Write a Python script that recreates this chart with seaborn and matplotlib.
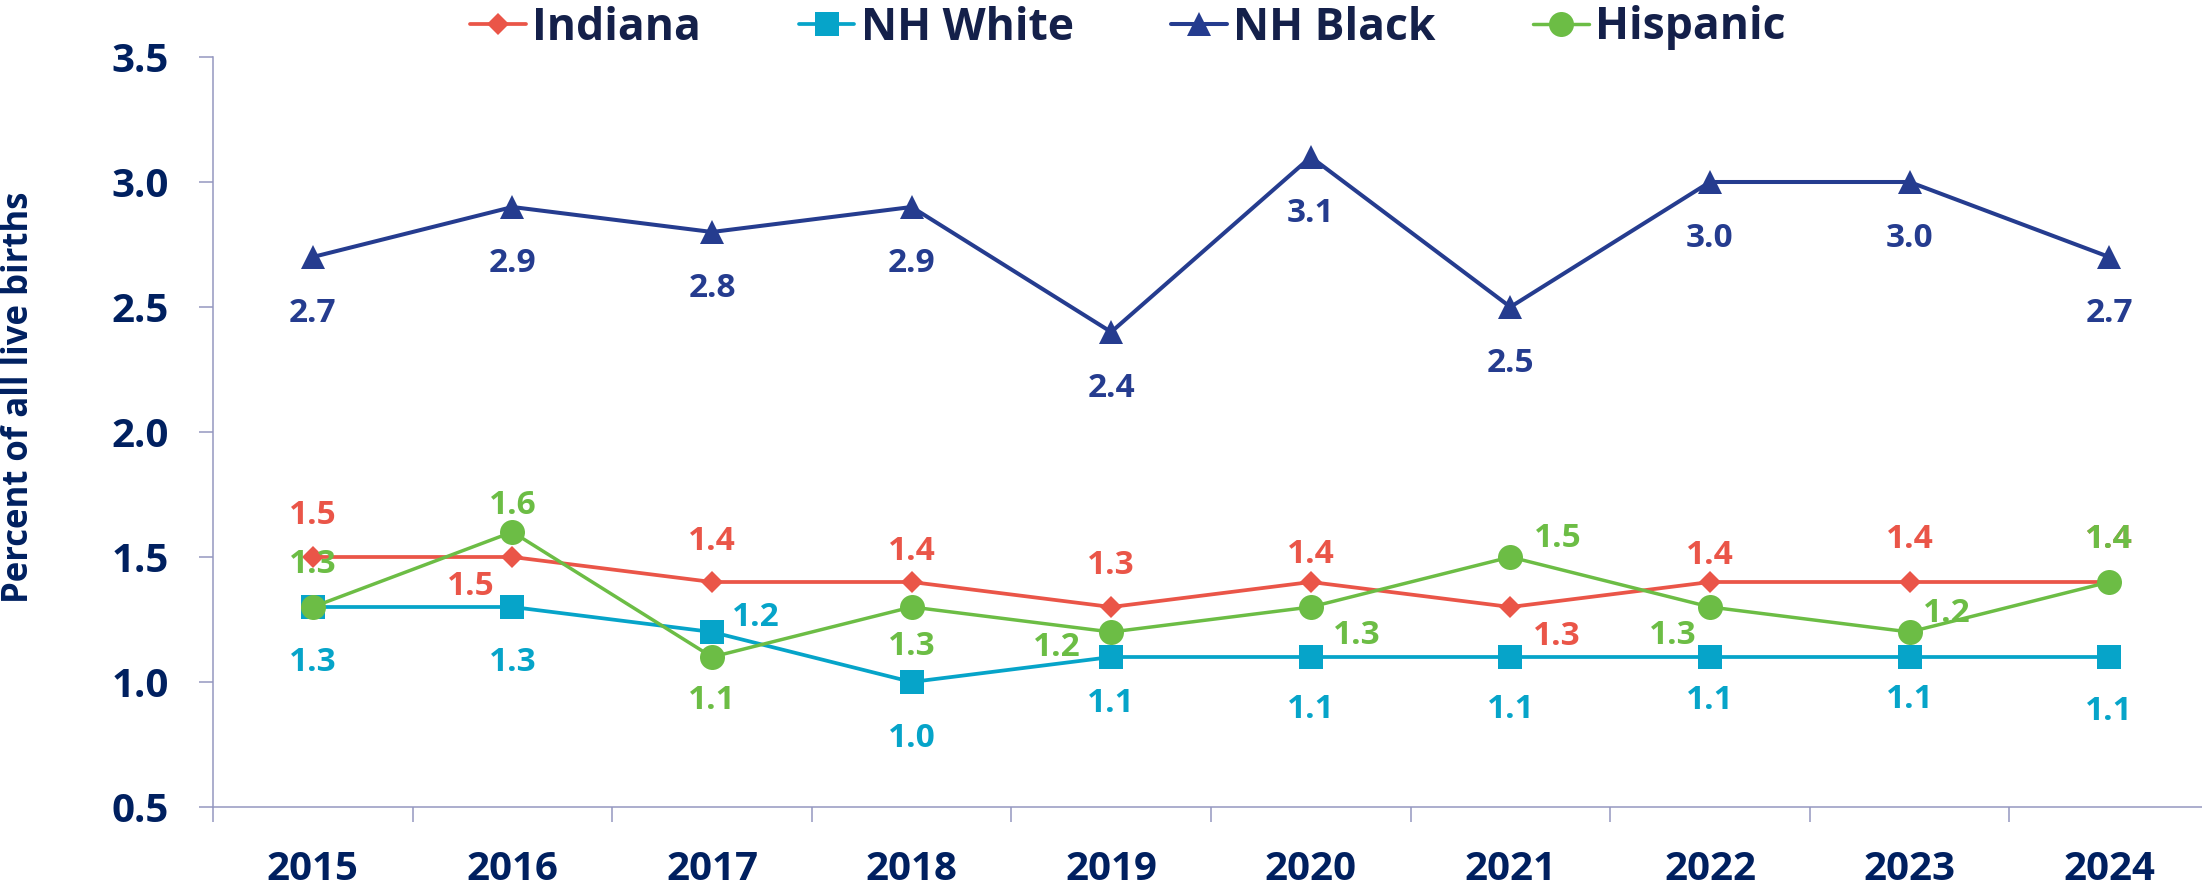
import numpy as np
import pandas as pd
import matplotlib
matplotlib.use("Agg")
import matplotlib.pyplot as plt
import seaborn as sns

# ---------------- data ----------------
years = ["2015", "2016", "2017", "2018", "2019", "2020", "2021", "2022", "2023", "2024"]
indiana = [1.5, 1.5, 1.4, 1.4, 1.3, 1.4, 1.3, 1.4, 1.4, 1.4]
nh_white = [1.3, 1.3, 1.2, 1.0, 1.1, 1.1, 1.1, 1.1, 1.1, 1.1]
nh_black = [2.7, 2.9, 2.8, 2.9, 2.4, 3.1, 2.5, 3.0, 3.0, 2.7]
hispanic = [1.3, 1.6, 1.1, 1.3, 1.2, 1.3, 1.5, 1.3, 1.2, 1.4]
series_names = ["Indiana", "NH White", "NH Black", "Hispanic"]
y_ticks = [0.5, 1.0, 1.5, 2.0, 2.5, 3.0, 3.5]
y_label = "Percent of all live births"

# ---------------- styles ----------------
sns.set_style("white")
plt.rcParams["font.family"] = ["Open Sans", "DejaVu Sans"]
plt.rcParams["font.weight"] = "bold"

colors = {"Indiana": "#EA5548", "NH White": "#06A4C9",
          "NH Black": "#253C8F", "Hispanic": "#6CBD45"}
markers = {"Indiana": "D", "NH White": "s", "NH Black": "^", "Hispanic": "o"}
msizes = {"Indiana": 11.5, "NH White": 17.5, "NH Black": 17.0, "Hispanic": 18.0}
lwidths = {"Indiana": 2.7, "NH White": 2.7, "NH Black": 2.9, "Hispanic": 2.5}

# label offsets in pixels (dx right, dy down) relative to the point
offsets = {
    "Indiana": [(0, -45), (-42, 26), (0, -44), (0, -34), (0, -45), (0, -31), (46, 26), (0, -30), (0, -46), (0, -46)],
    "NH White": [(0, 52), (0, 52), (44, -18), (0, 53), (0, 43), (0, 49), (0, 49), (0, 40), (0, 39), (0, 51)],
    "NH Black": [(0, 53)] * 10,
    "Hispanic": [(0, -46), (0, -30), (0, 40), (0, 36), (-54, 12), (46, 25), (47, -22), (-37, 25), (37, -22), (0, -46)],
}

NAVY = "#002060"
AXIS_C = "#9497C0"

W, H = 2202, 894
fig = plt.figure(figsize=(W / 100, H / 100), dpi=100)
ax = fig.add_axes([213 / W, (H - 807) / H, 1996 / W, 750 / H])

x = np.arange(len(years))
data = {"Indiana": indiana, "NH White": nh_white, "NH Black": nh_black, "Hispanic": hispanic}

for name in series_names:
    sns.lineplot(x=x, y=data[name], ax=ax, color=colors[name], marker=markers[name],
                 markersize=msizes[name], linewidth=lwidths[name],
                 markeredgecolor=colors[name], markeredgewidth=0, label=name)

label_fs = 24
cap_half = 0.714 * label_fs * 100 / 72 / 2
for name in series_names:
    for i, v in enumerate(data[name]):
        dx, dy = offsets[name][i]
        ax.annotate(f"{v:.1f}", (x[i], v), xytext=(dx, -(dy + cap_half)),
                    textcoords="offset pixels", ha="center", va="baseline",
                    fontsize=label_fs, fontweight="bold", color=colors[name])

ax.set_xlim(-0.5, len(years) - 0.5)
ax.set_ylim(y_ticks[0], y_ticks[-1])
ax.set_yticks(y_ticks)
ax.set_yticklabels([f"{t:.1f}" for t in y_ticks])
ax.set_xticks(x)
ax.set_xticklabels(years)
ax.set_xticks(np.arange(-0.5, len(years), 1), minor=True)

for s in ["top", "right"]:
    ax.spines[s].set_visible(False)
for s in ["left", "bottom"]:
    ax.spines[s].set_color(AXIS_C)
    ax.spines[s].set_linewidth(1.1)

ax.tick_params(axis="x", which="both", bottom=True, top=False)
ax.tick_params(axis="y", which="both", left=True, right=False)
ax.tick_params(axis="x", which="major", length=0, pad=31, labelsize=29, labelcolor=NAVY)
ax.tick_params(axis="x", which="minor", length=10.8, width=1.1, color=AXIS_C, direction="out")
ax.tick_params(axis="y", which="major", length=10, width=1.1, color=AXIS_C, direction="out",
               pad=22, labelsize=29, labelcolor=NAVY)
for lab in ax.get_xticklabels() + ax.get_yticklabels():
    lab.set_fontweight("bold")

ax.set_xlabel("")
ax.set_ylabel("")
ax.grid(False)

fig.text(19 / W, 1 - 397 / H, y_label, rotation=90, ha="center", va="center",
         fontsize=25, fontweight="bold", color=NAVY)

ax.get_legend().remove()
handles, labels = ax.get_legend_handles_labels()
leg = fig.legend(handles, labels, loc="center", bbox_to_anchor=(1128 / W, 1 - 28 / H),
                 ncol=4, frameon=False, handlelength=1.25, handletextpad=0.14,
                 columnspacing=2.2, prop={"size": 32, "weight": "bold"}, labelcolor="#14204A",
                 borderaxespad=0, borderpad=0)

fig.savefig("out.png", dpi=100)
